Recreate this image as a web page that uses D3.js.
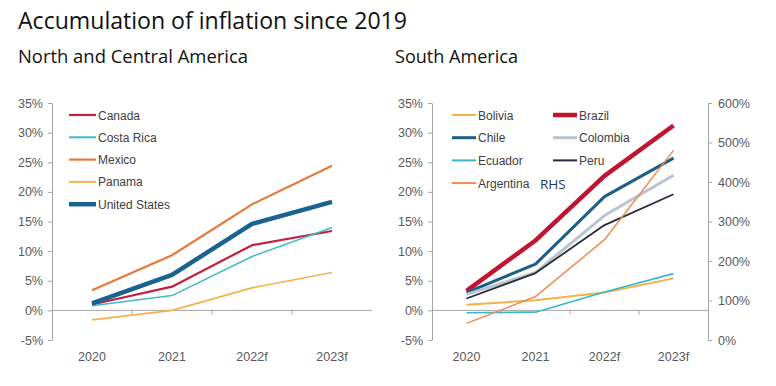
<!DOCTYPE html>
<html>
<head>
<meta charset="utf-8">
<script src="https://cdn.jsdelivr.net/npm/d3@7"></script>
<style>
  body { margin: 0; background: #fff; }
  text { font-family: "Liberation Sans", Arial, sans-serif; }
  .axis path, .axis line { stroke: #a6a6a6; }
  .axis text { fill: #595959; font-size: 12.5px; }
</style>
</head>
<body>
<div id="chart"></div>
<script>
// categories
var years = ["2020", "2021", "2022f", "2023f"];

// North and Central America (% accumulated)
var canada = [1.0, 4.0, 11.0, 13.4];
var costaRica = [0.8, 2.5, 9.1, 14.0];
var mexico = [3.4, 9.3, 17.9, 24.4];
var panama = [-1.6, 0.0, 3.8, 6.4];
var unitedStates = [1.2, 6.0, 14.6, 18.3];

// South America (% accumulated), Argentina on right axis
var bolivia = [0.95, 1.7, 3.0, 5.4];
var brazil = [3.3, 11.8, 22.7, 31.2];
var chile = [3.0, 7.8, 19.2, 25.7];
var colombia = [2.7, 6.4, 16.0, 22.8];
var ecuador = [-0.4, -0.3, 3.1, 6.2];
var peru = [2.0, 6.3, 14.4, 19.6];
var argentina = [42, 110, 254, 480];

// tick labels
var leftTicks = [-5, 0, 5, 10, 15, 20, 25, 30, 35];
var rightTicks = [0, 100, 200, 300, 400, 500, 600];

var width = 776, height = 386;

var svg = d3.select("#chart").append("svg")
    .attr("width", width)
    .attr("height", height);

// titles
svg.append("text").attr("x", 18).attr("y", 29)
   .attr("textLength", 389).attr("lengthAdjust", "spacingAndGlyphs")
   .style("font-family", "'Open Sans', sans-serif").style("font-size", "24px").style("fill", "#111")
   .text("Accumulation of inflation since 2019");
svg.append("text").attr("x", 18).attr("y", 63)
   .attr("textLength", 230).attr("lengthAdjust", "spacingAndGlyphs")
   .style("font-family", "'Open Sans', sans-serif").style("font-size", "19px").style("fill", "#111")
   .text("North and Central America");
svg.append("text").attr("x", 395).attr("y", 63)
   .attr("textLength", 123).attr("lengthAdjust", "spacingAndGlyphs")
   .style("font-family", "'Open Sans', sans-serif").style("font-size", "19px").style("fill", "#111")
   .text("South America");

var y = d3.scaleLinear().domain([-5, 35]).range([340, 103]);
var y2 = d3.scaleLinear().domain([0, 600]).range([340, 103]);

function pct(d) { return d + "%"; }

function panel(x0, x1, series, legend) {
  var x = d3.scaleBand().domain(years).range([x0, x1]);
  var cx = function(d, i) { return x(years[i]) + x.bandwidth() / 2; };

  // y axis left
  svg.append("g").attr("class", "axis")
     .attr("transform", "translate(" + x0 + ",0)")
     .call(d3.axisLeft(y).tickValues(leftTicks).tickFormat(pct).tickSize(4).tickSizeOuter(0).tickPadding(5));

  // zero line with separators
  svg.append("line").attr("x1", x0).attr("x2", x1)
     .attr("y1", y(0)).attr("y2", y(0))
     .attr("stroke", "#a6a6a6");
  svg.selectAll(null).data(years.slice(1)).enter().append("line")
     .attr("x1", function(d) { return x(d); }).attr("x2", function(d) { return x(d); })
     .attr("y1", y(0)).attr("y2", y(0) + 4)
     .attr("stroke", "#a6a6a6");

  // category labels
  var xa = svg.append("g").attr("class", "axis")
     .attr("transform", "translate(0," + y(0) + ")")
     .call(d3.axisBottom(x).tickSize(0).tickPadding(42));
  xa.select(".domain").remove();

  // lines
  series.forEach(function(s) {
    var sc = s.scale || y;
    var line = d3.line().x(cx).y(function(d) { return sc(d); });
    svg.append("path").datum(s.values)
       .attr("fill", "none")
       .attr("stroke", s.color)
       .attr("stroke-width", s.w)
       .attr("stroke-linejoin", "round")
       .attr("d", line);
  });

  // legend
  legend.forEach(function(l) {
    svg.append("line").attr("x1", l.x).attr("x2", l.x + l.len)
       .attr("y1", l.y).attr("y2", l.y)
       .attr("stroke", l.s.color).attr("stroke-width", Math.max(l.s.w, 2));
    svg.append("text").attr("x", l.x + l.len + 2).attr("y", l.y + 4.5)
       .style("font-size", "12px").style("fill", "#404040")
       .text(l.s.name);
  });
  return x;
}

var north = [
  {name: "Canada", values: canada, color: "#c41f3e", w: 2.2},
  {name: "Costa Rica", values: costaRica, color: "#3dbbcb", w: 1.5},
  {name: "Mexico", values: mexico, color: "#ea773a", w: 2.2},
  {name: "Panama", values: panama, color: "#f5b24c", w: 1.6},
  {name: "United States", values: unitedStates, color: "#1a6290", w: 4.5}
];
panel(52, 372, north, north.map(function(s, i) {
  return {s: s, x: 69, y: 115 + i * 22.3, len: 27};
}));

var south = [
  {name: "Bolivia", values: bolivia, color: "#f4b04a", w: 2},
  {name: "Brazil", values: brazil, color: "#bf1530", w: 4.5},
  {name: "Chile", values: chile, color: "#1c5e86", w: 3},
  {name: "Colombia", values: colombia, color: "#b9c4d0", w: 3},
  {name: "Ecuador", values: ecuador, color: "#3cb6c8", w: 1.6},
  {name: "Peru", values: peru, color: "#262b38", w: 1.8},
  {name: "Argentina", values: argentina, color: "#f08a50", w: 1.5, scale: y2}
];
var southLegend = south.map(function(s, i) {
  return {s: s, x: i % 2 === 0 ? 452 : 553, y: 115 + Math.floor(i / 2) * 22.7, len: 24};
});
panel(432, 708, south, southLegend);

// right axis for Argentina
svg.append("g").attr("class", "axis")
   .attr("transform", "translate(708,0)")
   .call(d3.axisRight(y2).tickValues(rightTicks).tickFormat(pct).tickSize(4).tickSizeOuter(0).tickPadding(6));

svg.append("text").attr("x", 540).attr("y", 188.5)
   .style("font-family", "'Open Sans', sans-serif").style("font-size", "13.5px").style("fill", "#1f3864")
   .text("RHS");
</script>
</body>
</html>
